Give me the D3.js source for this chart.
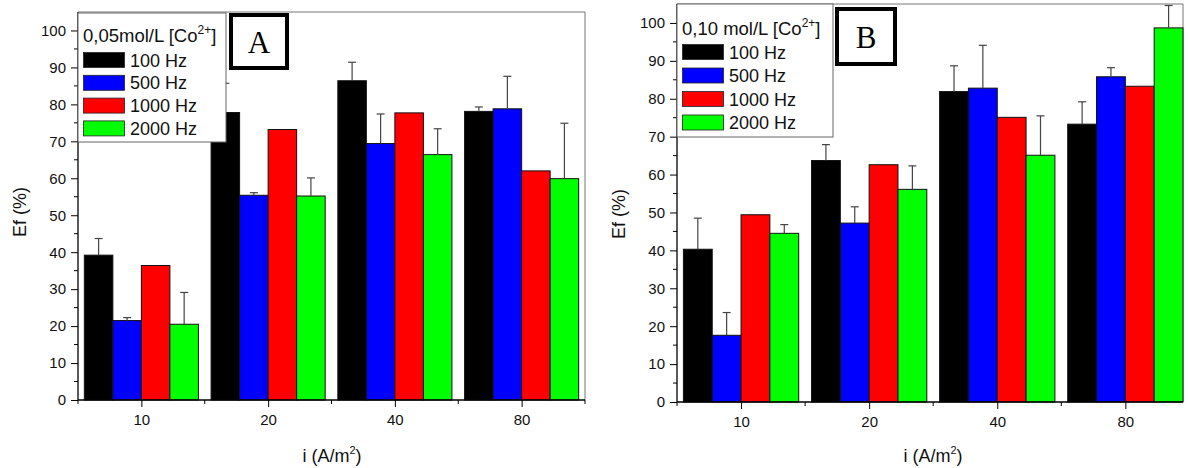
<!DOCTYPE html>
<html><head><meta charset="utf-8">
<script src="https://cdn.jsdelivr.net/npm/d3@7"></script>
<style>
html,body{margin:0;padding:0;background:#fff;}
svg{display:block;font-family:"Liberation Sans",Arial,sans-serif;}
</style></head>
<body><svg id="chart" width="1188" height="468"></svg>
<script>
const categories = ["10", "20", "40", "80"];
const seriesNames = ["100 Hz", "500 Hz", "1000 Hz", "2000 Hz"];
const yTicks = [0, 10, 20, 30, 40, 50, 60, 70, 80, 90, 100];
// Panel A: 0,05 mol/L
const valuesA_100 = [39.2, 77.8, 86.4, 78.1];
const valuesA_500 = [21.5, 55.4, 69.4, 78.8];
const valuesA_1000 = [36.4, 73.2, 77.7, 62.0];
const valuesA_2000 = [20.5, 55.2, 66.4, 59.9];
const errA_100 = [4.5, 7.9, 5.0, 1.2];
const errA_500 = [0.8, 0.7, 8.0, 8.8];
const errA_1000 = [0, 0, 0, 0];
const errA_2000 = [8.6, 4.9, 7.0, 15.0];
// Panel B: 0,10 mol/L
const valuesB_100 = [40.3, 63.7, 81.9, 73.3];
const valuesB_500 = [17.6, 47.2, 82.8, 85.8];
const valuesB_1000 = [49.4, 62.6, 75.1, 83.3];
const valuesB_2000 = [44.5, 56.1, 65.1, 98.7];
const errB_100 = [8.2, 4.2, 6.8, 5.9];
const errB_500 = [6.0, 4.3, 11.3, 2.4];
const errB_1000 = [0, 0, 0, 0];
const errB_2000 = [2.3, 6.2, 10.4, 5.9];

const colors = ["#000000", "#0000ff", "#ff0000", "#00ff00"];
const svg = d3.select("#chart");
const FONT = "Liberation Sans, Arial, sans-serif";

function panel(cfg) {
  const g = svg.append("g");
  const x = d3.scaleLinear().domain(cfg.xDomain).range([cfg.left, cfg.right]);
  const y = d3.scaleLinear().domain([0, 105]).range([cfg.bottom, cfg.top]);
  const bw = x(0.225) - x(0);
  const offsets = [-2, -1, 0, 1];

  // frame top/right (gray)
  g.append("path")
    .attr("d", `M${cfg.left},${cfg.top}H${cfg.right}V${cfg.bottom}`)
    .attr("fill", "none").attr("stroke", "#777").attr("stroke-width", 1);

  // bars
  cfg.values.forEach((vals, s) => {
    g.selectAll(".bar" + s).data(vals).join("rect")
      .attr("x", (d, i) => x(i) + offsets[s] * bw)
      .attr("y", d => y(d))
      .attr("width", bw)
      .attr("height", d => y(0) - y(d))
      .attr("fill", colors[s])
      .attr("stroke", "#111").attr("stroke-width", 1);
  });
  // error bars
  cfg.values.forEach((vals, s) => {
    vals.forEach((v, i) => {
      const e = cfg.errs[s][i];
      if (!e) return;
      const cx = x(i) + offsets[s] * bw + bw / 2;
      g.append("line").attr("x1", cx).attr("x2", cx).attr("y1", y(v)).attr("y2", y(v + e))
        .attr("stroke", "#444").attr("stroke-width", 1.2);
      g.append("line").attr("x1", cx - 4).attr("x2", cx + 4).attr("y1", y(v + e)).attr("y2", y(v + e))
        .attr("stroke", "#444").attr("stroke-width", 1.2);
    });
  });

  // y axis
  const minorY = d3.range(5, 105, 10);
  const yAxis = d3.axisLeft(y).tickValues(yTicks).tickSize(7).tickPadding(5);
  const ya = g.append("g").attr("transform", `translate(${cfg.left},0)`).call(yAxis);
  ya.select(".domain").attr("d", `M0,${cfg.bottom}V${cfg.top}`).attr("stroke", "#000").attr("stroke-width", 1.3);
  ya.selectAll("text").attr("font-size", 15).attr("fill", "#111").attr("font-family", FONT);
  ya.selectAll(".minor").data(minorY).join("line").attr("class", "minor")
    .attr("x1", -4).attr("x2", 0).attr("y1", d => y(d)).attr("y2", d => y(d)).attr("stroke", "#000");

  // x axis
  const xAxis = d3.axisBottom(x).tickValues([0, 1, 2, 3]).tickFormat(i => categories[i]).tickSize(7).tickPadding(7);
  const xa = g.append("g").attr("transform", `translate(0,${cfg.bottom})`).call(xAxis);
  xa.select(".domain").attr("d", `M${cfg.left},0H${cfg.right}`).attr("stroke", "#000").attr("stroke-width", 1.3);
  xa.selectAll("text").attr("font-size", 15).attr("fill", "#111").attr("font-family", FONT);
  xa.selectAll(".minor").data([-0.5, 0.5, 1.5, 2.5, 3.5].filter(v => x(v) <= cfg.right + 0.5)).join("line").attr("class", "minor")
    .attr("x1", d => x(d)).attr("x2", d => x(d)).attr("y1", 0).attr("y2", 4).attr("stroke", "#000");

  // axis labels
  g.append("text").attr("transform", `translate(${cfg.yLabelX},${cfg.yLabelY}) rotate(-90)`)
    .attr("text-anchor", "middle").attr("font-size", 18).attr("fill", "#111").text("Ef (%)");
  const xl = g.append("text").attr("x", cfg.xLabelX).attr("y", 462)
    .attr("text-anchor", "middle").attr("font-size", 18).attr("fill", "#111");
  xl.append("tspan").text("i (A/m");
  xl.append("tspan").attr("font-size", 11).attr("dy", -8).text("2");
  xl.append("tspan").attr("dy", 8).text(")");

  // legend
  const L = cfg.legend;
  g.append("rect").attr("x", L.x).attr("y", L.y).attr("width", L.w).attr("height", L.h)
    .attr("fill", "#fff").attr("stroke", "#666").attr("stroke-width", 1);
  const tt = g.append("text").attr("x", L.x + 5).attr("y", L.y + L.titleDy).attr("font-size", 18.5).attr("fill", "#111");
  tt.append("tspan").text(cfg.title + " [Co");
  tt.append("tspan").attr("font-size", 12).attr("dy", -8).text("2+");
  tt.append("tspan").attr("dy", 8).text("]");
  seriesNames.forEach((n, s) => {
    const cy = L.y + L.row0 + s * L.rowH;
    g.append("rect").attr("x", L.x + 5.5).attr("y", cy - 7.5).attr("width", 41).attr("height", 15)
      .attr("fill", colors[s]).attr("stroke", "#222").attr("stroke-width", 0.8);
    g.append("text").attr("x", L.x + 52).attr("y", cy + 6.5).attr("font-size", 18).attr("fill", "#111").text(n);
  });

  // letter box
  const B = cfg.box;
  g.append("rect").attr("x", B.x).attr("y", B.y).attr("width", B.w).attr("height", B.h)
    .attr("fill", "#fff").attr("stroke", "#000").attr("stroke-width", 4);
  g.append("text").attr("x", B.x + B.w / 2).attr("y", B.y + B.h / 2 + 11)
    .attr("text-anchor", "middle").attr("font-family", "Liberation Serif, Times New Roman, serif")
    .attr("font-size", 31).attr("fill", "#000").text(cfg.letter);
}

panel({
  left: 78, right: 585, top: 12, bottom: 400, xDomain: [-0.5, 3.5],
  values: [valuesA_100, valuesA_500, valuesA_1000, valuesA_2000],
  errs: [errA_100, errA_500, errA_1000, errA_2000],
  yLabelX: 26, yLabelY: 212, xLabelX: 332,
  title: "0,05mol/L",
  legend: {x: 78, y: 13, w: 148, h: 129, titleDy: 29, row0: 47, rowH: 22.8},
  box: {x: 231, y: 15, w: 56, h: 53}, letter: "A"
});
panel({
  left: 677, right: 1183, top: 4, bottom: 402, xDomain: [-0.5, 3.45],
  values: [valuesB_100, valuesB_500, valuesB_1000, valuesB_2000],
  errs: [errB_100, errB_500, errB_1000, errB_2000],
  yLabelX: 625, yLabelY: 214, xLabelX: 933,
  title: "0,10 mol/L",
  legend: {x: 677, y: 4, w: 156, h: 133, titleDy: 31, row0: 48, rowH: 23.5},
  box: {x: 837, y: 9, w: 58, h: 55}, letter: "B"
});
</script></body></html>
